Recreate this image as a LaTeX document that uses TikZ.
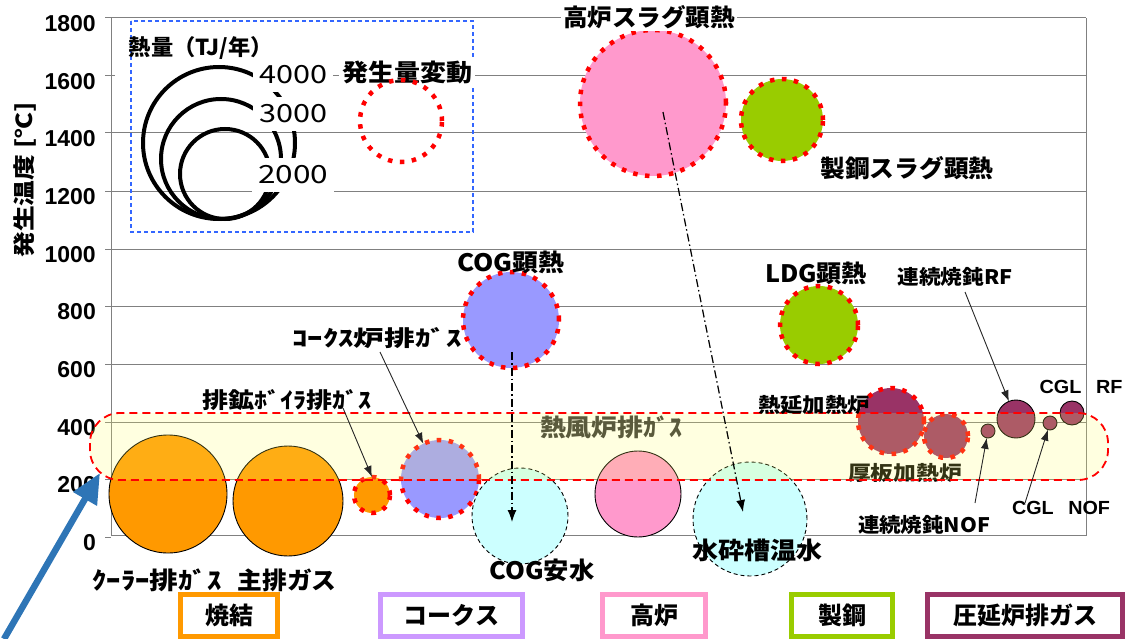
\documentclass[tikz,border=0pt]{standalone}
\usepackage{fontspec}
\usepackage{graphicx}
\setmainfont{Noto Sans CJK JP}
\newfontfamily\arialf{Liberation Sans}
\usetikzlibrary{arrows.meta}
\newcommand\fs[1]{\fontsize{#1}{#1}\selectfont}
\newcommand\fitw[2]{\resizebox{#1pt}{\height}{#2}}
\definecolor{orangeF}{HTML}{FF9900}
\definecolor{violetF}{HTML}{9999FF}
\definecolor{pinkF}{HTML}{FF99CC}
\definecolor{greenF}{HTML}{99CC00}
\definecolor{plumF}{HTML}{993366}
\definecolor{cyanF}{HTML}{CCFFFF}
\definecolor{lavB}{HTML}{CC99FF}
\definecolor{legB}{HTML}{3366FF}
\definecolor{bandF}{HTML}{FFFF66}
\definecolor{blueA}{HTML}{2E75B6}
\definecolor{gridC}{HTML}{808080}
\definecolor{bandT}{HTML}{5A5A3C}
\tikzset{
  lbl/.style={inner sep=0pt, font=\bfseries\fs{24}},
  slbl/.style={inner sep=0pt, font=\bfseries\fs{20}},
  bub/.style={circle, inner sep=0pt, outer sep=0pt},
  solidb/.style={bub, draw=black, line width=0.9pt},
  reddot/.style={bub, draw=red, line width=4.5pt, dash pattern=on 4.5pt off 7.5pt},
  cyanb/.style={bub, fill=cyanF, draw=black, line width=0.9pt, dash pattern=on 4pt off 3pt},
  ptr/.style={-{Latex[length=11pt,width=8pt]}, line width=0.9pt, draw=black!85},
  ddarrow/.style={-{Latex[length=12pt,width=9pt]}, line width=1.2pt, dash pattern=on 8pt off 3pt on 1.5pt off 3pt},
  catbox/.style={draw=#1, line width=5pt, minimum height=42pt, inner sep=0pt, font=\bfseries\fs{24}},
  numlbl/.style={anchor=east, inner sep=0pt, font=\arialf\bfseries\fs{23}},
  legc/.style={circle, draw=black, line width=4pt, inner sep=0pt},
  legv/.style={fill=white, inner xsep=6pt, inner ysep=8pt, font=\fs{25}},
  grid/.style={draw=gridC, line width=1pt}
}
\begin{document}
\begin{tikzpicture}[x=1pt,y=-1pt]
\useasboundingbox (0,0) rectangle (1131,639);
% grid and axes
\foreach \y in {18,133,191,249,306,364,422,479} \draw[grid] (111,\y) -- (1086,\y);
\draw[grid] (111,76) -- (115,76);
\draw[grid] (333,76) -- (1086,76);
\foreach \y in {18,76,133,191,249,306,364,422,479,537} \draw[grid] (105,\y) -- (111,\y);
\draw[grid] (111,18) -- (111,535) -- (1086,535) -- (1086,18);
\foreach \v/\y in {1800/18,1600/76,1400/133,1200/191,1000/249,800/306,600/364,400/422,200/479,0/537}
  \node[numlbl] (y\v) at (96,\y+6) {\v};
\node[rotate=90, inner sep=0pt, font=\bfseries\fs{22}] (ytitle) at (25,180) {\fitw{155}{発生温度 [℃]}};
% legend
\draw[legB, line width=1.2pt, dash pattern=on 4pt off 3pt] (131,21) rectangle (473,232);
\node[lbl, font=\bfseries\fs{22}] (theat) at (201,48) {\fitw{144}{熱量（TJ/年）}};
\node[legc, minimum size=152pt] (lc4) at (219,143) {};
\node[legc, minimum size=120pt] (lc3) at (221,159) {};
\node[legc, minimum size=90pt] (lc2) at (225,174) {};
\node[legv] (v4) at (293,75) {\fitw{68}{4000}};
\node[legv] (v3) at (293,114) {\fitw{68}{3000}};
\node[legv] (v2) at (293,175) {\fitw{70}{2000}};
\node[lbl, fill=white, inner sep=3pt] (tvar) at (407,72) {\fitw{130}{発生量変動}};
\node[reddot, minimum size=82pt] (lvar) at (401,121) {};
% upper bubbles
\node[reddot, fill=pinkF, minimum size=146pt] (bfslag) at (653,103) {};
\node[reddot, fill=greenF, minimum size=82pt] (stslag) at (782,120) {};
\node[reddot, fill=violetF, minimum size=96pt] (cog) at (511,320) {};
\node[reddot, fill=greenF, minimum size=78pt] (ldg) at (819,325) {};
% lower bubbles
\node[solidb, fill=orangeF, minimum size=118pt] (cool) at (168,494) {};
\node[solidb, fill=orangeF, minimum size=110pt] (main) at (288,501) {};
\node[reddot, fill=orangeF, minimum size=36pt] (boiler) at (372,495) {};
\node[reddot, fill=violetF, minimum size=78pt] (coke) at (440,479) {};
\node[cyanb, minimum size=96pt] (cogsw) at (520,516) {};
\node[solidb, fill=pinkF, minimum size=86pt] (bf) at (638,494) {};
\node[cyanb, minimum size=114pt] (water) at (750,519) {};
\node[reddot, fill=plumF, minimum size=66pt] (hotroll) at (891,421) {};
\node[reddot, fill=plumF, minimum size=44pt] (plate) at (946,436) {};
\node[solidb, fill=plumF, minimum size=14pt] (canof) at (988,431) {};
\node[solidb, fill=plumF, minimum size=38pt] (carf) at (1016,419) {};
\node[solidb, fill=plumF, minimum size=14pt] (cglnof) at (1050,423) {};
\node[solidb, fill=plumF, minimum size=24pt] (cglrf) at (1072,413) {};
% text under band
\node[slbl] (tplate) at (905,473) {\fitw{114}{厚板加熱炉}};
% band
\fill[bandF, fill opacity=0.2, rounded corners=30pt] (90,413) rectangle (1108,480);
\draw[red, line width=1.8pt, dash pattern=on 8pt off 5pt, rounded corners=30pt] (90,413) rectangle (1108,480);
\node[lbl, text=bandT] (tband) at (611,427) {\fitw{142}{熱風炉排ｶﾞｽ}};
% labels
\node[lbl, fill=white, inner sep=2pt] (tbfslag) at (649,17) {\fitw{172}{高炉スラグ顕熱}};
\node[lbl] (tstslag) at (907,168) {\fitw{173}{製鋼スラグ顕熱}};
\node[lbl] (tcog) at (511,262) {\fitw{107}{COG顕熱}};
\node[lbl] (tldg) at (816,273) {\fitw{102}{LDG顕熱}};
\node[slbl] (tcarf) at (955,277) {\fitw{115}{連続焼鈍RF}};
\node[slbl] (thot) at (814,405) {\fitw{112}{熱延加熱炉}};
\node[slbl, font=\arialf\bfseries\fs{19}] (tcglrf) at (1081,387) {\fitw{83}{CGL\hspace{14pt}RF}};
\node[slbl, font=\arialf\bfseries\fs{19}] (tcglnof) at (1061,508) {\fitw{98}{CGL\hspace{14pt}NOF}};
\node[slbl] (tcanof) at (924,525) {\fitw{132}{連続焼鈍NOF}};
\node[lbl] (tcool) at (157,580) {\fitw{129}{ｸｰﾗｰ排ｶﾞｽ}};
\node[lbl] (tmain) at (287,580) {\fitw{99}{主排ガス}};
\node[lbl, font=\bfseries\fs{22}] (tboil) at (287,400) {\fitw{169}{排鉱ﾎﾞｲﾗ排ｶﾞｽ}};
\node[lbl, font=\bfseries\fs{22}] (tcoke) at (377,338) {\fitw{169}{ｺｰｸｽ炉排ｶﾞｽ}};
\node[lbl] (tcogsw) at (542,570) {\fitw{105}{COG安水}};
\node[lbl] (twater) at (757,550) {\fitw{130}{水砕槽温水}};
% pointer arrows
\coordinate (pcoke) at (380,352);
\draw[ptr] (pcoke) -- (coke);
\coordinate (pboil) at (343,408);
\draw[ptr] (pboil) -- (boiler.north);
\coordinate (pcarf) at (965,292);
\draw[ptr] (pcarf) -- (carf);
\coordinate (pcanof) at (975,503);
\draw[ptr] (pcanof) -- (canof);
\coordinate (pcglnof) at (1025,503);
\draw[ptr] (pcglnof) -- (cglnof);
% dash-dot arrows
\coordinate (dcog0) at (512,352);
\coordinate (dcog1) at (512,522);
\draw[ddarrow] (dcog0) -- (dcog1);
\coordinate (dbf0) at (663,112);
\coordinate (dbf1) at (743,512);
\draw[ddarrow] (dbf0) -- (dbf1);
% category boxes
\node[catbox=orangeF, minimum width=97pt] (k1) at (229,615.5) {焼結};
\node[catbox=lavB, minimum width=142pt] (k2) at (451.5,615.5) {コークス};
\node[catbox=pinkF, minimum width=103pt] (k3) at (654,615.5) {高炉};
\node[catbox=greenF, minimum width=101pt] (k4) at (842,615.5) {製鋼};
\node[catbox=plumF, minimum width=195pt] (k5) at (1025,615.5) {圧延炉排ガス};
% blue arrow
\coordinate (b0) at (4,639);
\coordinate (b1) at (100,473);
\draw[blueA, line width=6.5pt, -{Triangle[length=30pt,width=26pt]}] (b0) -- (b1);
\end{tikzpicture}
\end{document}
